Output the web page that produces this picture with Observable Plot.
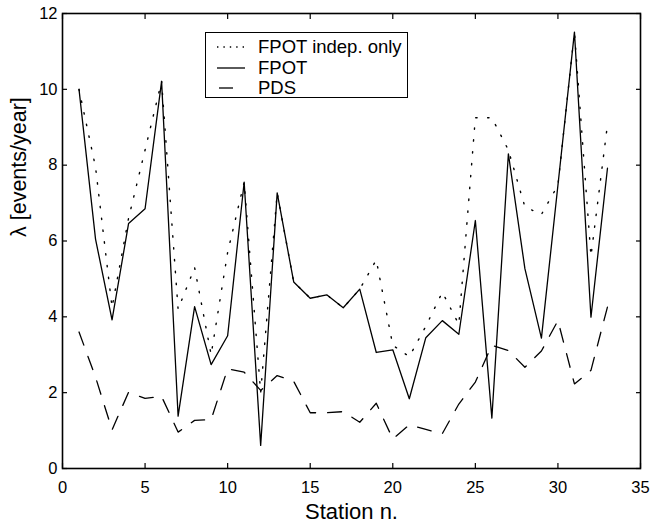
<!DOCTYPE html>
<html>
<head>
<meta charset="utf-8">
<script src="https://cdn.jsdelivr.net/npm/d3@7"></script>
<script src="https://cdn.jsdelivr.net/npm/@observablehq/plot@0.6"></script>
<style>
  html, body { margin: 0; padding: 0; background: #fff; }
  #wrap { position: relative; width: 651px; height: 524px; font-family: "Liberation Sans", Arial, sans-serif; }
  #legend { position: absolute; left: 205px; top: 32px; width: 201px; height: 64px; border: 1.6px solid #000; background: #fff; }
  .row { position: absolute; left: 0; height: 20px; display: flex; align-items: center; font-size: 18.5px; }
  .row svg { margin-left: 10px; margin-right: 12px; }
</style>
</head>
<body>
<div id="wrap"><div id="chart"></div><div id="legend"></div></div>
<script>
const stations = [1,2,3,4,5,6,7,8,9,10,11,12,13,14,15,16,17,18,19,20,21,22,23,24,25,26,27,28,29,30,31,32,33];
const fpot = [10.0, 6.05, 3.92, 6.46, 6.85, 10.21, 1.38, 4.27, 2.74, 3.50, 7.55, 0.61, 7.27, 4.92, 4.49, 4.58, 4.24, 4.73, 3.06, 3.13, 1.84, 3.45, 3.90, 3.54, 6.54, 1.33, 8.30, 5.27, 3.44, 7.47, 11.51, 3.99, 7.92];
const fpotIndep = [10.0, 7.95, 4.25, 6.6, 8.4, 10.21, 4.2, 5.3, 3.0, 5.7, 7.55, 2.0, 7.27, 4.92, 4.49, 4.58, 4.24, 4.73, 5.5, 3.25, 2.95, 3.75, 4.65, 3.8, 9.25, 9.25, 8.4, 6.9, 6.7, 7.47, 11.51, 5.6, 9.07];
const pds = [3.6, 2.41, 1.02, 2.01, 1.85, 1.9, 0.96, 1.27, 1.29, 2.63, 2.54, 2.06, 2.45, 2.3, 1.47, 1.47, 1.5, 1.22, 1.72, 0.78, 1.15, 1.03, 0.92, 1.7, 2.28, 3.25, 3.11, 2.67, 3.1, 3.9, 2.23, 2.59, 4.26];
const xTicks = [0,5,10,15,20,25,30,35];
const yTicks = [0,2,4,6,8,10,12];
const seriesNames = ["FPOT indep. only", "FPOT", "PDS"];
const xLabel = "Station n.";
const yLabel = "λ [events/year]";

const dotDash = "1.4,10.5";
const dashDash = "14,12";
const styles = [
  {dash: dotDash, legendDash: "1.4,5", width: 1.4},
  {dash: null, legendDash: null, width: 1.3},
  {dash: dashDash, legendDash: null, width: 1.3}
];
const seriesValues = [fpotIndep, fpot, pds];

const marks = [];
seriesValues.forEach((vals, k) => {
  const data = stations.map((s, i) => ({s, v: vals[i]}));
  marks.push(Plot.line(data, {x: "s", y: "v", stroke: "black", strokeWidth: styles[k].width,
    strokeDasharray: styles[k].dash || undefined}));
});

const chart = Plot.plot({
  width: 651,
  height: 524,
  marginLeft: 62,
  marginRight: 11,
  marginTop: 13,
  marginBottom: 56,
  style: {fontFamily: "Liberation Sans, Arial, sans-serif", background: "white", color: "black"},
  x: {domain: [0, 35]},
  y: {domain: [0, 12]},
  marks: [
    ...marks,
    Plot.axisX(xTicks, {anchor: "bottom", tickSize: -5, tickFormat: () => "", label: null, strokeWidth: 1.2}),
    Plot.axisX(xTicks, {anchor: "top", tickSize: -5, tickFormat: () => "", label: null, strokeWidth: 1.2}),
    Plot.axisX(xTicks, {anchor: "bottom", tickSize: 0, tickPadding: 13, label: null, fontSize: 16.5, fill: "black"}),
    Plot.axisY(yTicks, {anchor: "left", tickSize: -5, tickFormat: () => "", label: null, strokeWidth: 1.2}),
    Plot.axisY(yTicks, {anchor: "right", tickSize: -5, tickFormat: () => "", label: null, strokeWidth: 1.2}),
    Plot.axisY(yTicks, {anchor: "left", tickSize: 0, tickPadding: 5, label: null, fontSize: 16.5, fill: "black"}),
    Plot.frame({stroke: "black", strokeWidth: 1.6}),
    Plot.text([xLabel], {frameAnchor: "bottom", dy: 50, fontSize: 22, fill: "black"}),
    Plot.text([yLabel], {frameAnchor: "left", rotate: -90, dx: -43, dy: -4, fontSize: 21.5, fill: "black"})
  ]
});
document.getElementById("chart").appendChild(chart);

// legend
const legend = document.getElementById("legend");
seriesNames.forEach((name, k) => {
  const row = document.createElement("div");
  row.className = "row";
  row.style.top = (4 + k * 20.5) + "px";
  const ns = "http://www.w3.org/2000/svg";
  const svg = document.createElementNS(ns, "svg");
  svg.setAttribute("width", 30); svg.setAttribute("height", 10);
  const ln = document.createElementNS(ns, "line");
  ln.setAttribute("x1", k === 2 ? 3 : 1); ln.setAttribute("x2", k === 2 ? 17 : 29);
  ln.setAttribute("y1", 5); ln.setAttribute("y2", 5);
  ln.setAttribute("stroke", "black"); ln.setAttribute("stroke-width", styles[k].width);
  if (styles[k].legendDash) ln.setAttribute("stroke-dasharray", styles[k].legendDash);
  svg.appendChild(ln);
  row.appendChild(svg);
  const span = document.createElement("span");
  span.textContent = name;
  row.appendChild(span);
  legend.appendChild(row);
});
</script>
</body>
</html>
